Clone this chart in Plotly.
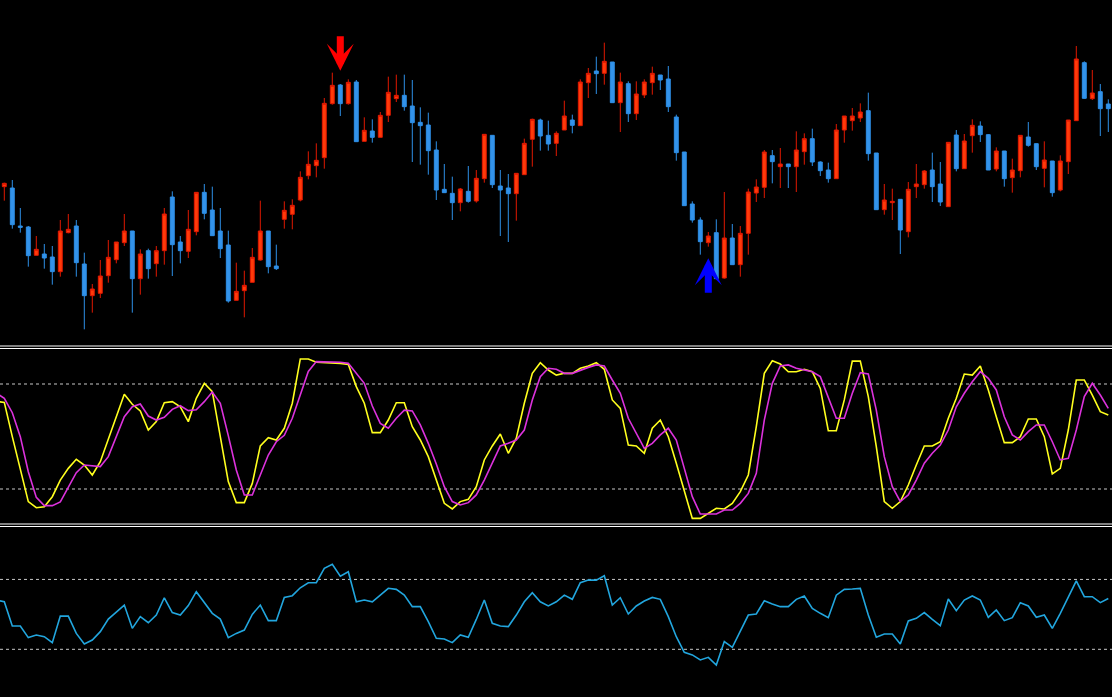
import plotly.graph_objects as go

# ---------------- data ----------------
bars = list(range(139))
line_x = list(range(-1, 139))

opens = [530, 526, 412, 409, 324, 328, 319, 275, 392, 412,
         298, 203, 210, 263, 311, 362, 397, 254, 338, 299,
         338, 499, 364, 336, 395, 513, 460, 397, 355, 189,
         218, 243, 310, 397, 292, 432, 447, 490, 563, 593,
         617, 779, 835, 779, 844, 666, 697, 678, 744, 794,
         804, 772, 723, 715, 640, 522, 510, 482, 516, 487,
         554, 684, 532, 526, 509, 566, 672, 730, 684, 660,
         700, 730, 713, 842, 877, 870, 904, 782, 839, 749,
         805, 842, 865, 853, 739, 634, 478, 430, 362, 392,
         256, 376, 296, 390, 511, 528, 623, 590, 598, 590,
         635, 674, 604, 580, 554, 700, 728, 736, 758, 631,
         461, 482, 492, 395, 530, 536, 580, 538, 470, 685,
         584, 683, 712, 686, 583, 637, 557, 578, 679, 659,
         585, 607, 520, 605, 728, 902, 794, 815, 778]
highs = [542, 550, 466, 412, 382, 358, 352, 430, 448, 430,
         332, 238, 310, 370, 364, 448, 397, 342, 344, 352,
         466, 516, 382, 460, 513, 538, 530, 466, 398, 302,
         278, 346, 488, 397, 356, 486, 492, 576, 636, 660,
         796, 872, 838, 852, 850, 738, 732, 754, 860, 866,
         866, 850, 768, 752, 666, 598, 560, 526, 592, 580,
         687, 684, 580, 568, 570, 674, 734, 734, 728, 696,
         788, 746, 852, 886, 920, 962, 904, 872, 846, 846,
         852, 890, 865, 892, 746, 634, 486, 438, 394, 432,
         514, 418, 412, 524, 552, 640, 640, 646, 598, 696,
         690, 704, 606, 602, 718, 742, 766, 780, 812, 631,
         538, 524, 492, 544, 598, 580, 632, 604, 663, 700,
         688, 732, 726, 688, 648, 637, 614, 684, 724, 660,
         666, 607, 624, 730, 952, 906, 880, 838, 792]
lows = [488, 404, 392, 290, 324, 284, 236, 260, 390, 260,
        102, 152, 196, 242, 300, 352, 152, 206, 254, 260,
        296, 262, 300, 316, 384, 432, 383, 316, 182, 189,
        138, 243, 308, 270, 280, 404, 402, 486, 552, 558,
        584, 776, 742, 776, 665, 666, 662, 678, 724, 784,
        758, 604, 596, 566, 490, 512, 430, 456, 482, 482,
        542, 526, 382, 364, 428, 566, 590, 638, 638, 622,
        700, 690, 713, 796, 808, 836, 782, 694, 724, 730,
        796, 806, 820, 754, 608, 473, 422, 326, 350, 254,
        254, 296, 260, 326, 484, 496, 540, 526, 526, 514,
        596, 592, 562, 542, 554, 662, 698, 724, 608, 461,
        446, 430, 328, 378, 496, 524, 484, 472, 470, 576,
        584, 632, 664, 580, 576, 530, 512, 558, 650, 580,
        528, 500, 516, 568, 728, 794, 790, 682, 694]
closes = [540, 416, 408, 323, 342, 316, 275, 397, 402, 302,
          203, 223, 262, 318, 364, 397, 254, 328, 284, 338,
          448, 356, 338, 402, 513, 450, 383, 344, 187, 216,
          234, 318, 397, 290, 284, 459, 474, 558, 597, 609,
          780, 834, 779, 843, 665, 699, 678, 744, 813, 804,
          770, 722, 713, 638, 520, 512, 482, 523, 486, 555,
          687, 536, 520, 509, 570, 660, 732, 682, 658, 690,
          742, 714, 844, 870, 869, 906, 782, 844, 749, 808,
          844, 870, 850, 770, 632, 473, 430, 365, 382, 254,
          376, 296, 390, 514, 529, 634, 605, 598, 590, 640,
          674, 604, 578, 554, 700, 742, 742, 754, 629, 461,
          490, 486, 400, 522, 538, 577, 530, 484, 663, 584,
          667, 714, 686, 580, 637, 554, 580, 684, 654, 590,
          610, 512, 607, 730, 913, 795, 811, 764, 764]

stoch_k = [70.0,
           69.5, 49.9, 30.9, 12.8, 9.3, 9.9, 15.6, 25.1, 31.8, 37.0,
           33.7, 28.0, 35.6, 48.0, 61.3, 74.1, 68.4, 64.6, 53.7, 58.5,
           69.3, 69.9, 67.0, 58.5, 71.8, 80.4, 75.6, 49.9, 24.2, 12.2,
           12.2, 23.2, 44.6, 49.3, 48.0, 54.7, 69.0, 94.3, 94.3, 92.4,
           92.2, 92.2, 91.8, 91.2, 78.5, 69.0, 52.2, 52.2, 59.4, 69.3,
           69.3, 55.6, 48.0, 38.5, 25.1, 11.8, 8.6, 12.8, 14.1, 21.3,
           36.6, 44.6, 51.4, 40.4, 49.0, 69.0, 86.1, 92.2, 88.0, 85.1,
           86.1, 86.1, 89.0, 90.3, 92.2, 88.4, 70.9, 66.1, 45.1, 44.6,
           40.4, 54.7, 59.4, 49.9, 34.7, 18.5, 3.2, 3.2, 6.1, 9.0,
           8.6, 11.8, 18.5, 28.0, 55.6, 86.1, 93.3, 91.4, 87.0, 87.0,
           88.4, 87.0, 77.5, 53.3, 53.3, 70.9, 93.1, 93.1, 72.8, 44.2,
           12.8, 9.0, 12.8, 22.3, 33.7, 44.6, 44.6, 47.0, 60.4, 71.8,
           85.7, 85.1, 90.3, 76.6, 61.3, 46.5, 46.5, 49.9, 60.0, 60.0,
           49.9, 28.6, 31.8, 53.7, 82.3, 82.3, 73.7, 64.2, 62.3]
stoch_d = [74.9,
           71.8, 63.6, 49.9, 29.9, 15.2, 10.5, 10.5, 12.6, 20.8, 29.3,
           33.7, 33.1, 32.8, 38.5, 50.3, 61.3, 67.0, 68.6, 61.7, 59.4,
           61.0, 65.5, 67.6, 64.8, 65.3, 69.9, 75.4, 69.0, 50.5, 30.9,
           16.6, 16.6, 28.0, 39.4, 47.0, 50.7, 60.4, 73.7, 87.2, 92.8,
           92.8, 92.8, 92.4, 91.8, 86.1, 80.4, 67.4, 57.5, 54.7, 60.4,
           65.1, 64.6, 56.6, 46.1, 34.3, 21.3, 12.8, 10.9, 12.2, 16.6,
           25.1, 34.7, 44.6, 46.1, 48.0, 53.7, 70.9, 84.2, 89.0, 88.4,
           86.1, 86.1, 88.0, 89.5, 90.9, 90.3, 82.3, 74.7, 60.4, 51.8,
           43.2, 46.1, 50.9, 54.7, 48.0, 31.8, 15.6, 5.7, 5.7, 5.7,
           8.0, 8.0, 11.8, 17.5, 29.0, 59.4, 80.4, 90.3, 90.9, 89.0,
           88.0, 87.0, 84.2, 72.8, 60.4, 60.4, 74.7, 86.5, 85.7, 65.1,
           38.5, 21.3, 12.8, 16.6, 25.1, 34.7, 40.4, 45.1, 53.7, 67.0,
           74.7, 81.3, 87.0, 83.2, 76.6, 61.3, 50.9, 48.0, 52.8, 56.6,
           56.6, 47.0, 36.6, 37.5, 53.7, 72.8, 80.4, 73.7, 66.1]
rsi = [58.2,
       57.2, 43.3, 43.3, 36.7, 38.2, 37.2, 33.8, 49.0, 49.0, 39.1,
       33.0, 35.3, 40.1, 47.3, 51.5, 55.3, 42.0, 48.7, 45.2, 49.6,
       59.5, 51.0, 49.6, 55.0, 63.0, 56.7, 50.6, 47.3, 36.7, 39.1,
       41.0, 50.0, 55.3, 46.4, 46.4, 59.7, 60.7, 65.2, 68.1, 68.1,
       76.3, 78.6, 71.9, 74.4, 57.2, 58.2, 57.2, 61.0, 64.9, 64.3,
       61.0, 54.4, 54.4, 45.8, 36.3, 35.9, 33.8, 38.2, 36.9, 47.1,
       58.2, 44.9, 43.3, 43.0, 49.6, 57.2, 62.4, 57.2, 54.8, 57.2,
       61.0, 58.6, 68.1, 69.6, 69.6, 72.1, 55.3, 59.5, 50.2, 54.8,
       57.6, 59.7, 58.6, 48.7, 37.2, 28.3, 26.8, 23.9, 25.4, 21.0,
       34.4, 31.1, 40.1, 49.6, 50.2, 57.8, 55.9, 54.4, 54.4, 58.6,
       60.5, 53.4, 50.6, 48.1, 61.0, 64.3, 64.5, 64.9, 49.6, 36.9,
       38.8, 38.8, 33.0, 46.2, 47.7, 51.0, 47.1, 43.5, 58.8, 52.1,
       58.2, 60.5, 58.2, 48.3, 52.5, 46.4, 48.1, 56.7, 54.8, 48.3,
       49.6, 42.0, 50.6, 60.1, 69.2, 60.1, 60.1, 56.7, 59.1]

stoch_levels = [80, 20]
rsi_levels = [70, 30]
sell_bar = 42
buy_bar = 88

for arr in (opens, highs, lows, closes):
    assert len(arr) == len(bars), len(arr)
for arr in (stoch_k, stoch_d, rsi):
    assert len(arr) == len(line_x), len(arr)

# ---------------- figure ----------------
W, H = 1112, 697
fig = go.Figure()

fig.add_trace(go.Candlestick(
    x=bars, open=opens, high=highs, low=lows, close=closes,
    xaxis="x", yaxis="y",
    increasing=dict(line=dict(color="#E01800", width=1), fillcolor="#FF3A0A"),
    decreasing=dict(line=dict(color="#2E8FE6", width=1), fillcolor="#3393EA"),
    whiskerwidth=0, showlegend=False, hoverinfo="skip",
))

fig.add_trace(go.Scatter(x=line_x, y=stoch_k, mode="lines", xaxis="x", yaxis="y2",
                         line=dict(color="#FFFF1E", width=1.6), showlegend=False, hoverinfo="skip"))
fig.add_trace(go.Scatter(x=line_x, y=stoch_d, mode="lines", xaxis="x", yaxis="y2",
                         line=dict(color="#DC32DC", width=1.6), showlegend=False, hoverinfo="skip"))
fig.add_trace(go.Scatter(x=line_x, y=rsi, mode="lines", xaxis="x", yaxis="y3",
                         line=dict(color="#22A6DE", width=1.6), showlegend=False, hoverinfo="skip"))

shapes = []
for lv in stoch_levels:
    shapes.append(dict(type="line", xref="paper", x0=0, x1=1, yref="y2", y0=lv, y1=lv,
                       line=dict(color="#C8C8C8", width=1, dash="3px,3px"), layer="below"))
for lv in rsi_levels:
    shapes.append(dict(type="line", xref="paper", x0=0, x1=1, yref="y3", y0=lv, y1=lv,
                       line=dict(color="#C8C8C8", width=1, dash="3px,3px"), layer="below"))
# window separators (double white lines)
for py in (346, 348.5, 524, 526.5):
    yy = 1 - py / H
    shapes.append(dict(type="line", xref="paper", x0=0, x1=1, yref="paper", y0=yy, y1=yy,
                       line=dict(color="#FFFFFF", width=1.2)))

annotations = [
    dict(x=sell_bar, y=highs[sell_bar] + 40, xref="x", yref="y", text="", showarrow=True,
         ax=0, ay=-35, arrowhead=3, arrowsize=0.64, arrowwidth=7, arrowcolor="#FF0000",
         standoff=0, borderpad=0),
    dict(x=buy_bar, y=lows[buy_bar] - 35, xref="x", yref="y", text="", showarrow=True,
         ax=0, ay=35, arrowhead=3, arrowsize=0.64, arrowwidth=7, arrowcolor="#0000FF",
         standoff=0, borderpad=0),
]

axis_hidden = dict(visible=False, showgrid=False, zeroline=False, fixedrange=True)
x_lo = -4.3 / 8
x_hi = (W - 4.3) / 8

fig.update_layout(
    width=W, height=H,
    margin=dict(l=0, r=0, t=0, b=0),
    paper_bgcolor="#000000", plot_bgcolor="#000000",
    xaxis=dict(axis_hidden, range=[x_lo, x_hi], rangeslider=dict(visible=False), anchor="y"),
    yaxis=dict(axis_hidden, domain=[1 - 343 / H, 1], range=[61, 1090]),
    yaxis2=dict(axis_hidden, domain=[1 - 524 / H, 1 - 349 / H], range=[0, 100]),
    yaxis3=dict(axis_hidden, domain=[0, 1 - 527 / H], range=[2.7, 100]),
    shapes=shapes,
    annotations=annotations,
)

fig.write_html(
    "out.html",
    config={"displayModeBar": False},
    post_script="document.body.style.margin='0';document.body.style.background='#000';"
                "document.body.style.overflow='hidden';",
)
